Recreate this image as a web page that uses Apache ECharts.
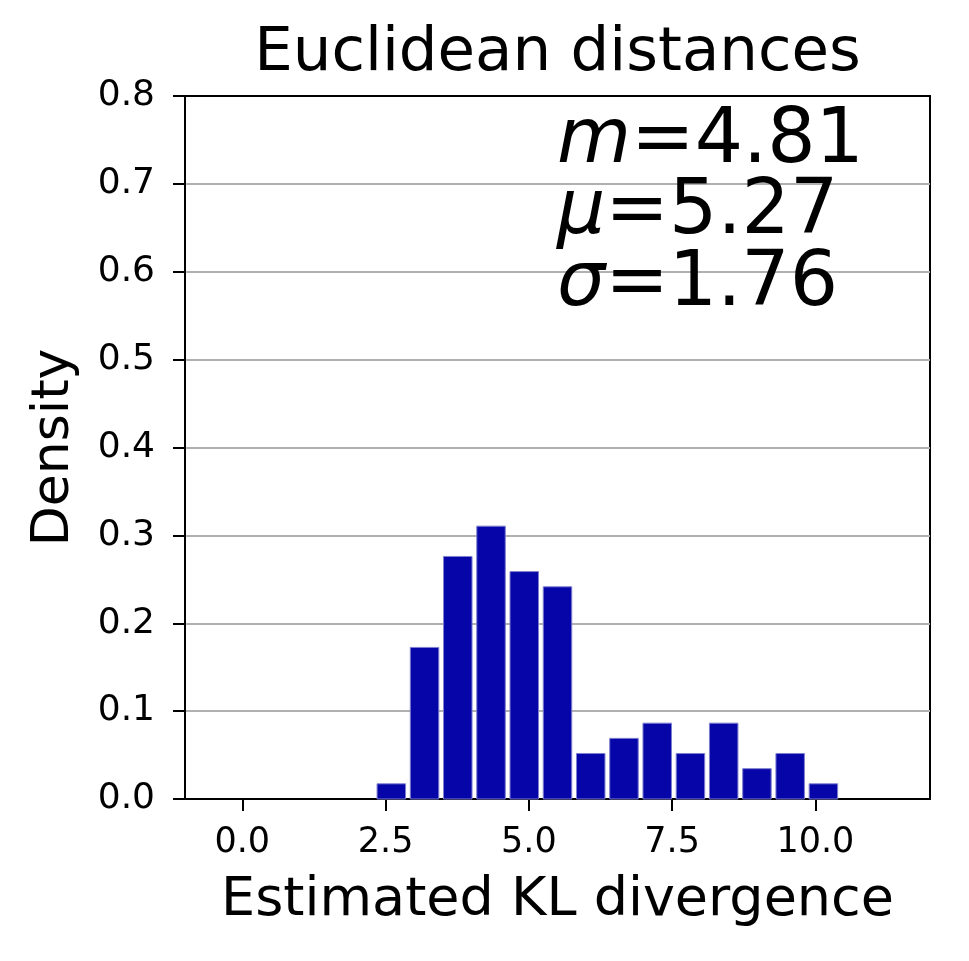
<!DOCTYPE html>
<html>
<head>
<meta charset="utf-8">
<script src="https://cdn.jsdelivr.net/npm/echarts@6/dist/echarts.min.js"></script>
<style>html,body{margin:0;padding:0;background:#fff}#c{width:969px;height:961px}</style>
</head>
<body>
<div id="c"></div>
<script>
// Histogram bin edges (Estimated KL divergence)
const binEdges = [2.31, 2.89, 3.47, 4.05, 4.63, 5.21, 5.79, 6.37, 6.95, 7.53, 8.11, 8.69, 9.27, 9.85, 10.43];
// Density per bin
const density = [0.0173, 0.1725, 0.276, 0.3105, 0.2588, 0.2415, 0.0518, 0.069, 0.0863, 0.0518, 0.0863, 0.0345, 0.0518, 0.0173];
// Tick labels
const xTicks = [0, 2.5, 5, 7.5, 10];
const yTicks = [0, 0.1, 0.2, 0.3, 0.4, 0.5, 0.6, 0.7, 0.8];
const statLines = [['m', '=4.81'], ['μ', '=5.27'], ['σ', '=1.76']];
const titleText = 'Euclidean distances';
const xName = 'Estimated KL divergence';
const yName = 'Density';

const FONT = 'DejaVu Sans';
const RW = 0.857;
const histData = density.map((d, i) => [binEdges[i], binEdges[i + 1], d]);

const chart = echarts.init(document.getElementById('c'), null, {renderer: 'canvas'});
const statY = [142, 213, 285];
chart.setOption({
  animation: false,
  backgroundColor: '#fff',
  grid: {left: 185, right: 39, top: 96, bottom: 162, show: true, borderColor: '#000', borderWidth: 2, containLabel: false},
  xAxis: {
    type: 'value', min: -1, max: 12,
    name: xName, nameLocation: 'middle', nameGap: 75,
    nameTextStyle: {fontFamily: FONT, fontSize: 54, color: '#000'},
    axisLine: {show: true, onZero: false, lineStyle: {color: '#000', width: 2}},
    axisTick: {show: true, length: 12, lineStyle: {color: '#000', width: 2}, customValues: xTicks},
    axisLabel: {fontFamily: FONT, fontSize: 35, color: '#000', margin: 26, customValues: xTicks,
      formatter: v => Number(v).toFixed(1)},
    splitLine: {show: false}
  },
  yAxis: {
    type: 'value', min: 0, max: 0.8, interval: 0.1,
    name: yName, nameLocation: 'middle', nameGap: 105,
    nameTextStyle: {fontFamily: FONT, fontSize: 52, color: '#000'},
    axisLine: {show: true, onZero: false, lineStyle: {color: '#000', width: 2}},
    axisTick: {show: true, length: 12, lineStyle: {color: '#000', width: 2}, customValues: yTicks},
    axisLabel: {fontFamily: FONT, fontSize: 36, color: '#000', margin: 30, customValues: yTicks,
      formatter: v => Number(v).toFixed(1)},
    splitLine: {show: true, showMinLine: false, showMaxLine: false, lineStyle: {color: '#b0b0b0', width: 2}}
  },
  series: [{
    type: 'custom',
    data: histData,
    encode: {x: [0, 1], y: 2},
    renderItem: function (params, api) {
      const l = api.value(0), r = api.value(1), h = api.value(2);
      const pad = (r - l) * (1 - RW) / 2;
      const p0 = api.coord([l + pad, h]);
      const p1 = api.coord([r - pad, 0]);
      return {
        type: 'rect',
        shape: {x: p0[0], y: p0[1], width: p1[0] - p0[0], height: p1[1] - p0[1]},
        style: {fill: '#0505a8', stroke: '#7f7fd0', lineWidth: 1}
      };
    }
  }],
  graphic: [
    {type: 'text', x: 557.5, y: 54, style: {text: titleText, font: '61px "DejaVu Sans"', fill: '#000', align: 'center', verticalAlign: 'middle'}},
  ].concat(statLines.map((s, i) => ({
    type: 'text', x: 557, y: statY[i], z: 10,
    style: {
      text: '{i|' + s[0] + '}{r|' + s[1] + '}',
      align: 'left', verticalAlign: 'middle',
      rich: {
        i: {fontFamily: FONT, fontSize: 76, fontStyle: 'italic', fill: '#000'},
        r: {fontFamily: FONT, fontSize: 76, fill: '#000'}
      }
    }
  })))
});
</script>
</body>
</html>
